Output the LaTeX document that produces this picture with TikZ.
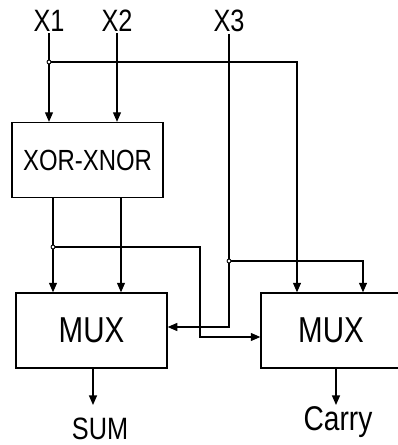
\documentclass[tikz,border=0pt]{standalone}
\usepackage{fontspec}
\setmainfont{Liberation Sans}
\usepackage{tikz}
\usetikzlibrary{positioning,arrows.meta,calc}
\newcommand{\tall}[1]{\scalebox{1}[1.22]{#1}}
\tikzset{
    blk/.style={rectangle,draw,line width=0.9pt,inner sep=0pt,minimum height=1.875cm},
    sig/.style={inner sep=1pt,font=\fontsize{18}{20}\selectfont},
    wire/.style={line width=0.9pt},
    arr/.style={wire,-{Triangle[length=2.4mm,width=2mm]}},
    dot/.style={circle,draw,fill=white,inner sep=0pt,minimum size=1mm,line width=0.6pt},
}
\begin{document}
\begin{tikzpicture}[x=0.025cm,y=-0.025cm]
\useasboundingbox (0,0) rectangle (398,445);
\node[sig] (in1) at (49,21)  {\tall{X1}};
\node[sig] (in2) at (117,21) {\tall{X2}};
\node[sig] (in3) at (229,21) {\tall{X3}};
\node[blk,minimum width=3.775cm,font=\fontsize{17}{19}\selectfont] (xorbox) at (87.5,160) {\tall{XOR-XNOR}};
\node[blk,minimum width=3.775cm,font=\fontsize{21}{23}\selectfont] (muxsum) at (91.5,330.5) {\tall{MUX}};
\node[blk,minimum width=3.5cm,font=\fontsize{21}{23}\selectfont] (muxcarry) at (331,330.5) {\tall{MUX}};
\node[sig] (sum) at (100,429) {\tall{SUM}};
\node[sig,font=\fontsize{20}{22}\selectfont] (carry) at (338,422) {\tall{Carry}};
% junctions
\coordinate (j1) at (49,62);
\coordinate (j2) at (53,247);
\coordinate (j3) at (229,261);
% inputs
\draw[arr] (in1.south) -- (in1.south |- xorbox.north);
\draw[arr] (in2.south) -- (in2.south |- xorbox.north);
\draw[arr] (j1) -- (297,62) -- (297,0 |- muxcarry.north);
\draw[arr] (in3.south) -- (229,327) -- (muxsum.east |- 0,327);
\draw[arr] (j3) -- (363,261) -- (363,0 |- muxcarry.north);
% xor-xnor outputs
\draw[arr] (53,0 |- xorbox.south) -- (53,0 |- muxsum.north);
\draw[arr] (121,0 |- xorbox.south) -- (121,0 |- muxsum.north);
\draw[arr] (j2) -- (200,247) -- (200,337) -- (muxcarry.west |- 0,337);
% outputs
\draw[arr] (93,0 |- muxsum.south) -- (93,405);
\draw[arr] (336,0 |- muxcarry.south) -- (336,405);
\foreach \j in {j1,j2,j3} \node[dot] at (\j) {};
\end{tikzpicture}
\end{document}
